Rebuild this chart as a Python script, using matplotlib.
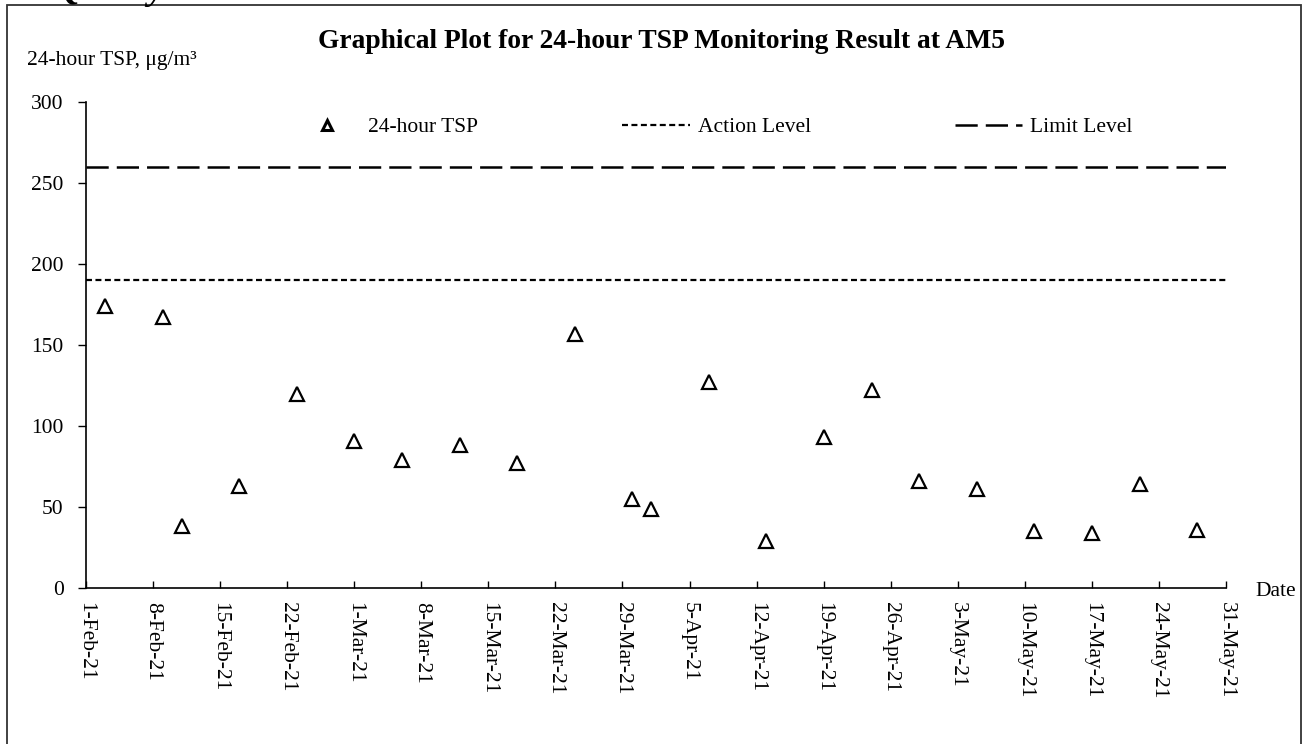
import matplotlib
matplotlib.use("Agg")
import matplotlib.pyplot as plt
from matplotlib.patches import Rectangle
from datetime import date, timedelta

# 24-hour TSP readings at AM5
sample_dates = ['2021-02-03', '2021-02-09', '2021-02-11', '2021-02-17', '2021-02-23',
                '2021-03-01', '2021-03-06', '2021-03-12', '2021-03-18', '2021-03-24',
                '2021-03-30', '2021-04-01', '2021-04-07', '2021-04-13', '2021-04-19',
                '2021-04-24', '2021-04-29', '2021-05-05', '2021-05-11', '2021-05-17',
                '2021-05-22', '2021-05-28']
tsp = [174, 167, 38, 63, 120, 91, 79, 88, 77, 157, 55, 49, 127, 29, 93, 122,
       66, 61, 35, 34, 64, 36]
action_level = 190
limit_level = 260
start, end = date(2021, 2, 1), date(2021, 5, 31)
tick_dates = [start + timedelta(days=7 * i) for i in range(18)]
tick_labels = [f"{d.day}-{d.strftime('%b')}-{d.strftime('%y')}" for d in tick_dates]
yticks = [0, 50, 100, 150, 200, 250, 300]

plt.rcParams['font.family'] = ['Liberation Serif', 'DejaVu Serif']
plt.rcParams['lines.scale_dashes'] = False
fs = 15.5

W, H = 1306, 744
fig = plt.figure(figsize=(W / 100, H / 100), dpi=100)
ax = fig.add_axes([86 / W, 1 - 588 / H, (1226 - 86) / W, (588 - 102) / H])

x = [date.fromisoformat(d) for d in sample_dates]
ax.plot(x, tsp, linestyle='none', marker='^', markersize=10.5, markerfacecolor='white',
        markeredgecolor='black', markeredgewidth=1.6, clip_on=False, label='24-hour TSP')
ax.plot([start, end], [action_level, action_level], color='black', lw=1.6,
        dashes=(4.3, 2.5), label='Action Level')
ax.plot([start, end], [limit_level, limit_level], color='black', lw=1.8,
        dashes=(16, 5.8), label='Limit Level')

# legend markers are drawn smaller than the plot markers
leg = ax.legend(loc='upper left', bbox_to_anchor=((293 - 86) / (1226 - 86), 1 - 15 / 486),
                ncol=3, frameon=False, fontsize=fs, handlelength=3.12,
                handletextpad=0.37, columnspacing=6.7, borderaxespad=0,
                borderpad=0)
leg.legend_handles[0].set_markersize(7)
leg.legend_handles[0].set_markeredgewidth(2.2)

ax.set_xlim(start, end)
ax.set_ylim(0, 300)
ax.set_xticks(tick_dates)
ax.set_xticklabels(tick_labels, rotation=270, fontsize=fs, va='top', ha='center')
ax.set_yticks(yticks)
ax.set_yticklabels([str(v) for v in yticks], fontsize=fs)
ax.tick_params(axis='x', direction='in', length=5, width=1, pad=10)
ax.tick_params(axis='y', direction='out', length=6, width=1, pad=10)
ax.spines['top'].set_visible(False)
ax.spines['right'].set_visible(False)
for s in ('left', 'bottom'):
    ax.spines[s].set_linewidth(1.2)

fig.text(661 / W, 1 - 42 / H, 'Graphical Plot for 24-hour TSP Monitoring Result at AM5',
         fontsize=19.8, fontweight='bold', ha='center', va='center')
fig.text(27 / W, 1 - 60 / H, '24-hour TSP, μg/m³', fontsize=fs, ha='left', va='center')
fig.text(1255 / W, 1 - 592 / H, 'Date', fontsize=fs, ha='left', va='center')
# page heading above the chart, cut off by the crop
fig.text(55 / W, 1 + 1 / H, 'Quality', fontsize=26, fontweight='bold', style='italic',
         ha='left', va='baseline')

fig.patches.append(Rectangle((7 / W, -0.1), (1301 - 7) / W, 1.1 - 5 / H,
                             transform=fig.transFigure, fill=False,
                             edgecolor='#333333', linewidth=1.3))

fig.savefig('out.png', dpi=100)
